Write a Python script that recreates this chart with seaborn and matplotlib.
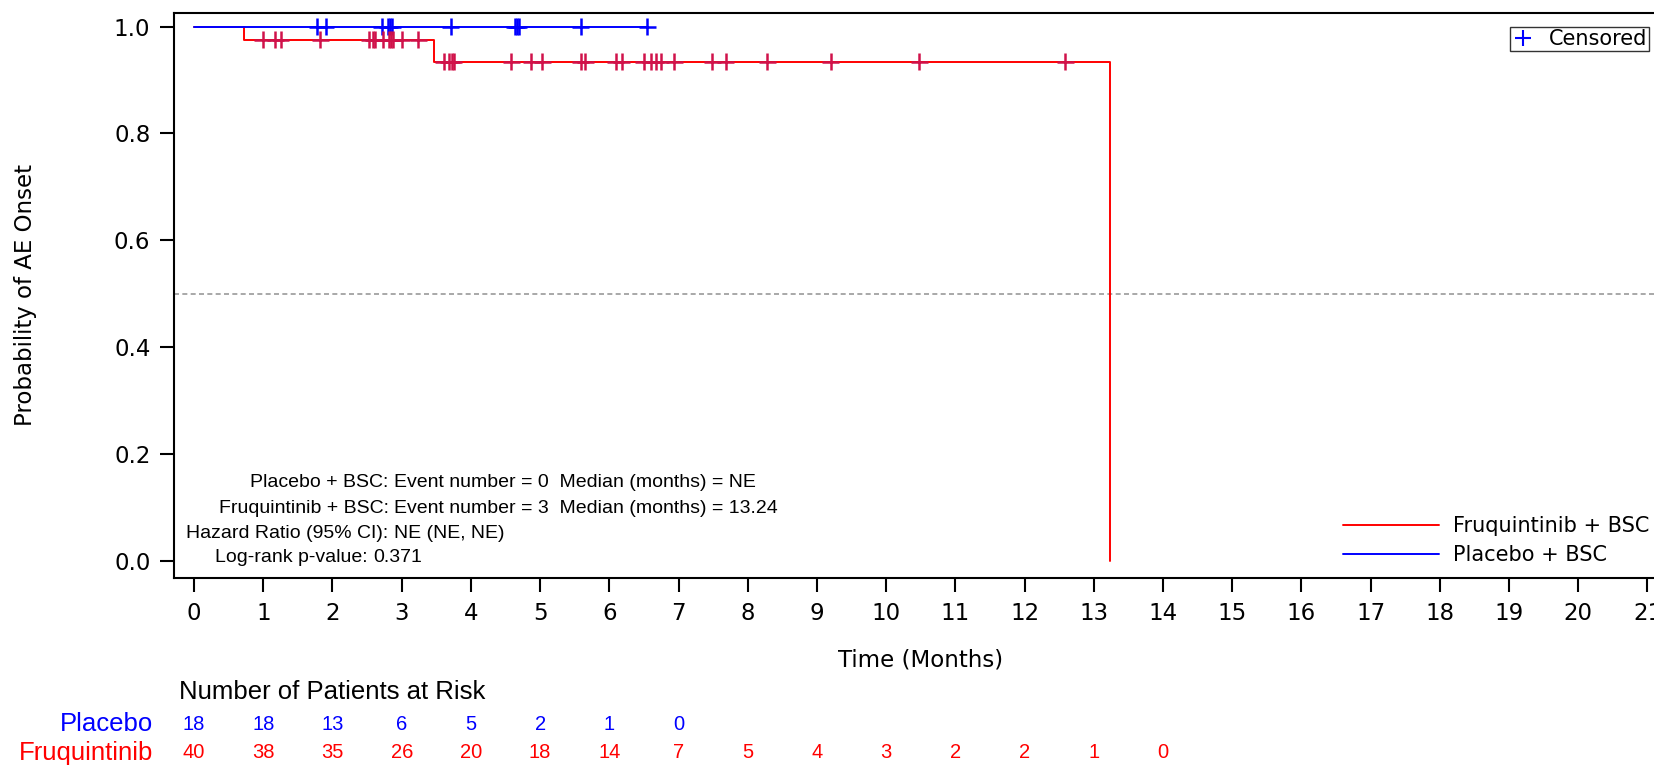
import matplotlib
matplotlib.use("Agg")
import matplotlib.pyplot as plt
import matplotlib.transforms as mtransforms
from matplotlib.lines import Line2D
import numpy as np
import pandas as pd
import seaborn as sns

# KM step data
fruq_times = [0.0, 0.72, 3.46, 13.24]
fruq_surv = [1.0, 0.975, 0.934, 0.0]
plac_times = [0.0, 6.55]
plac_surv = [1.0, 1.0]

# censor times
plac_censor = [1.78, 1.90, 2.71, 2.80, 2.83, 2.86, 3.71, 4.63, 4.66, 4.69, 5.59, 6.55]
fruq_censor = [0.99, 1.17, 1.25, 1.82, 2.53, 2.59, 2.62, 2.73, 2.82, 2.85, 2.87, 3.00,
               3.24, 3.61, 3.68, 3.72, 3.75, 4.58, 4.87, 5.03, 5.59, 5.65, 6.09, 6.18,
               6.50, 6.60, 6.67, 6.74, 6.94, 7.49, 7.68, 8.28, 9.20, 10.48, 12.59]

# patients at risk by month
plac_risk = [18, 18, 13, 6, 5, 2, 1, 0]
fruq_risk = [40, 38, 35, 26, 20, 18, 14, 7, 5, 4, 3, 2, 2, 1, 0]

x_ticks = list(range(0, 22))
y_ticks = [0.0, 0.2, 0.4, 0.6, 0.8, 1.0]

RED = "#FF0000"
BLUE = "#0000FF"
RED_MARK = "#D0124A"
NARROW = ["Liberation Sans", "DejaVu Sans"]

sns.set_style("ticks")
plt.rcParams["font.family"] = ["DejaVu Sans"]
plt.rcParams.update({
    "text.color": "black",
    "axes.labelcolor": "black",
    "xtick.color": "black",
    "ytick.color": "black",
})

W, H = 1654, 768
fig = plt.figure(figsize=(W / 100, H / 100), dpi=100)
# axes run past the right edge like the reference
ax = fig.add_axes([174 / W, 1 - 578 / H, (1689 - 174) / W, (578 - 12.7) / H])


def step_value(times, surv, t):
    idx = np.searchsorted(times, t, side="right") - 1
    return np.asarray(surv)[idx]


curves = pd.DataFrame({
    "time": fruq_times + plac_times,
    "surv": fruq_surv + plac_surv,
    "arm": ["Fruquintinib + BSC"] * len(fruq_times) + ["Placebo + BSC"] * len(plac_times),
})
sns.lineplot(data=curves, x="time", y="surv", hue="arm",
             palette={"Fruquintinib + BSC": RED, "Placebo + BSC": BLUE},
             estimator=None, sort=False, drawstyle="steps-post",
             linewidth=1.4, legend=False, ax=ax)

cens = pd.DataFrame({
    "time": plac_censor + fruq_censor,
    "surv": list(step_value(plac_times, plac_surv, plac_censor))
    + list(step_value(fruq_times, fruq_surv, fruq_censor)),
    "arm": ["Placebo + BSC"] * len(plac_censor) + ["Fruquintinib + BSC"] * len(fruq_censor),
})
sns.scatterplot(data=cens, x="time", y="surv", hue="arm",
                palette={"Fruquintinib + BSC": RED_MARK, "Placebo + BSC": BLUE},
                marker="+", s=150, linewidth=1.8, legend=False, ax=ax, zorder=4)

ax.axhline(0.5, color="#999999", linestyle=(0, (3, 2)), linewidth=1.2, zorder=1)

ax.set_xlim(-0.29, 21.6)
ax.set_ylim(-0.032, 1.026)
ax.set_xticks(x_ticks)
ax.set_yticks(y_ticks)
ax.set_yticklabels([f"{v:.1f}" for v in y_ticks])
ax.tick_params(axis="both", labelsize=16.5, length=10, width=1.5, color="black")
ax.tick_params(axis="y", pad=7)
ax.tick_params(axis="x", pad=7)
for sp in ax.spines.values():
    sp.set_linewidth(1.5)
    sp.set_color("black")

ax.set_xlabel("Time (Months)", fontsize=16.5)
ax.xaxis.set_label_coords((921 - 174) / 1515, -(660 - 578) / 565.3)
ax.xaxis.label.set_va("center")
ax.set_ylabel("Probability of AE Onset", fontsize=16.5)
ax.yaxis.set_label_coords((26 - 174) / 1515, 0.5)
ax.yaxis.label.set_va("center")

# statistics box
stats_rows = [
    ("Placebo + BSC:", "Event number = 0  Median (months) = NE", 393.9, 482.8),
    ("Fruquintinib + BSC:", "Event number = 3  Median (months) = 13.24", 393.9, 508.5),
    ("Hazard Ratio (95% CI):", "NE (NE, NE)", 393.9, 533.5),
    ("Log-rank p-value:", "0.371", 373.0, 558.0),
]
for lab, val, px, py in stats_rows:
    fig.text(px / W, 1 - py / H, lab + " ", ha="right", va="center",
             fontsize=14, family=NARROW)
    fig.text(px / W, 1 - py / H, val, ha="left", va="center",
             fontsize=14, family=NARROW)

# legends
line_handles = [Line2D([], [], color=RED, lw=1.4), Line2D([], [], color=BLUE, lw=1.4)]
fig.legend(line_handles, ["Fruquintinib + BSC", "Placebo + BSC"],
           loc="upper left", bbox_to_anchor=(1343 / W, 1 - 516 / H),
           frameon=False, fontsize=15, handlelength=4.6, handletextpad=0.7,
           labelspacing=0.45, borderpad=0, borderaxespad=0)
cens_handle = [Line2D([], [], color=BLUE, marker="+", linestyle="none",
                      markersize=12, markeredgewidth=1.5)]
leg2 = fig.legend(cens_handle, ["Censored"], loc="upper left",
                  bbox_to_anchor=(1510 / W, 1 - 27 / H), frameon=True,
                  fontsize=15, handlelength=1.0, handletextpad=0.75,
                  borderpad=0.1, borderaxespad=0, fancybox=False)
leg2.get_frame().set_edgecolor("black")
leg2.get_frame().set_linewidth(1.0)

# risk table
trans = mtransforms.blended_transform_factory(ax.transData, fig.transFigure)
fig.text(179 / W, 1 - 692 / H, "Number of Patients at Risk", ha="left", va="center",
         fontsize=18.5, family=NARROW)
fig.text(153 / W, 1 - 724 / H, "Placebo", ha="right", va="center",
         fontsize=18.5, family=NARROW, color=BLUE)
fig.text(153 / W, 1 - 753 / H, "Fruquintinib", ha="right", va="center",
         fontsize=18.5, family=NARROW, color=RED)
for m, n in enumerate(plac_risk):
    ax.text(m, 1 - 724 / H, str(n), transform=trans, ha="center", va="center",
            fontsize=14.5, family=NARROW, color=BLUE, clip_on=False)
for m, n in enumerate(fruq_risk):
    ax.text(m, 1 - 753 / H, str(n), transform=trans, ha="center", va="center",
            fontsize=14.5, family=NARROW, color=RED, clip_on=False)

fig.savefig("out.png", dpi=100)
